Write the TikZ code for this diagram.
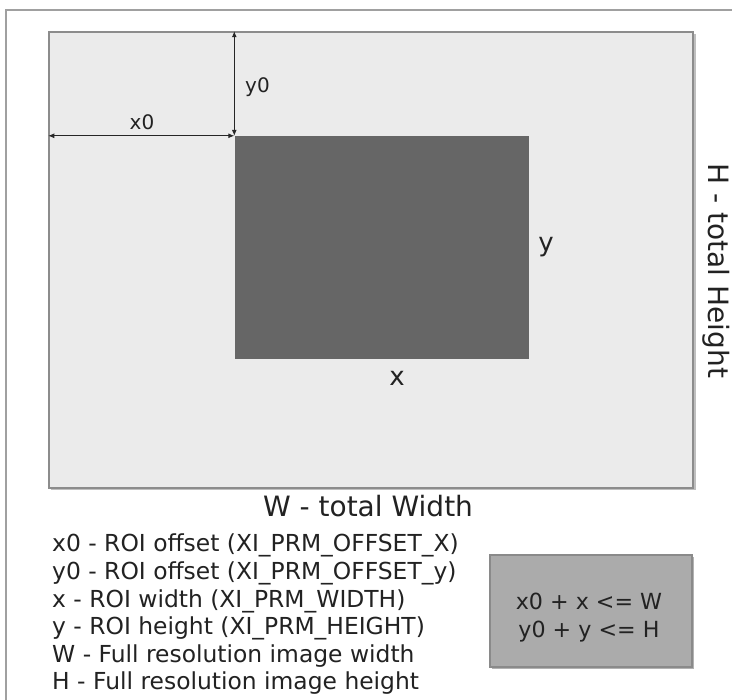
\documentclass[tikz,border=0pt]{standalone}
\usepackage{fontspec}
\setmainfont{DejaVu Sans}
\usetikzlibrary{arrows.meta}
\definecolor{framegray}{HTML}{A0A0A0}
\definecolor{imgfill}{HTML}{EBEBEB}
\definecolor{imgborder}{HTML}{8C8C8C}
\definecolor{roifill}{HTML}{666666}
\definecolor{boxfill}{HTML}{ABABAB}
\definecolor{boxborder}{HTML}{8A8A8A}
\definecolor{txt}{HTML}{222222}
\tikzset{
  imgrect/.style={draw=imgborder, line width=1.5pt, fill=imgfill, minimum width=644pt, minimum height=456pt, inner sep=0pt},
  roirect/.style={fill=roifill, minimum width=294pt, minimum height=223pt, inner sep=0pt},
  dimarrow/.style={draw=black!85, line width=0.9pt, {Latex[length=6pt,width=5pt]}-{Latex[length=6pt,width=5pt]}},
  smalllbl/.style={font=\fontsize{20}{24}\selectfont, text=txt, inner sep=0pt},
  midlbl/.style={font=\fontsize{26}{30}\selectfont, text=txt, inner sep=0pt},
  biglbl/.style={font=\fontsize{28}{32}\selectfont, text=txt, inner sep=0pt},
  legend/.style={font=\fontsize{23.4}{28}\selectfont, text=txt, inner sep=0pt, anchor=base west},
  condbox/.style={draw=boxborder, line width=1.5pt, fill=boxfill, minimum width=202pt, minimum height=112pt, inner sep=0pt},
  condtxt/.style={font=\fontsize{22.2}{27}\selectfont, text=txt, inner sep=0pt, anchor=base}
}
\begin{document}
\begin{tikzpicture}[x=1pt,y=-1pt]
\useasboundingbox[fill=white] (0,0) rectangle (732,700);
% outer frame
\draw[framegray, line width=1.8pt] (6,700) -- (6,10) -- (732,10);
% image rectangle (with light shadow)
\fill[black!25] (51,34) rectangle (695.5,490);
\node[imgrect] (img) at (371,260) {};
\node[roirect] (roi) at (381.5,247.5) {};
% dimension arrows
\coordinate (xstart) at (img.west |- roi.north west);
\coordinate (ystart) at (roi.north west |- img.north);
\draw[dimarrow] (xstart) -- (roi.north west);
\draw[dimarrow] (ystart) -- (roi.north west);
\node[smalllbl] (lx0) at (142,122) {x0};
\node[smalllbl, anchor=west] (ly0) at (245,87) {y0};
% roi labels
\node[midlbl] (ly) at (546,247) {y};
\node[midlbl] (lx) at (397,378) {x};
% total labels
\node[biglbl, rotate=-90] (lH) at (716,271) {H - total Height};
\node[biglbl, anchor=base] (lW) at (368,517) {W - total Width};
% legend
\node[legend] (l1) at (52,552) {x0 - ROI offset (XI\_PRM\_OFFSET\_X)};
\node[legend] (l2) at (52,579.6) {y0 - ROI offset (XI\_PRM\_OFFSET\_y)};
\node[legend] (l3) at (52,607.2) {x - ROI width (XI\_PRM\_WIDTH)};
\node[legend] (l4) at (52,634.8) {y - ROI height (XI\_PRM\_HEIGHT)};
\node[legend] (l5) at (52,662.4) {W - Full resolution image width};
\node[legend] (l6) at (52,690) {H - Full resolution image height};
% condition box
\fill[black!30] (492,557) rectangle (694,669);
\node[condbox] (cbox) at (591,611) {};
\node[condtxt] (c1) at (589,610) {x0 + x <= W};
\node[condtxt] (c2) at (589,638) {y0 + y <= H};
\end{tikzpicture}
\end{document}
